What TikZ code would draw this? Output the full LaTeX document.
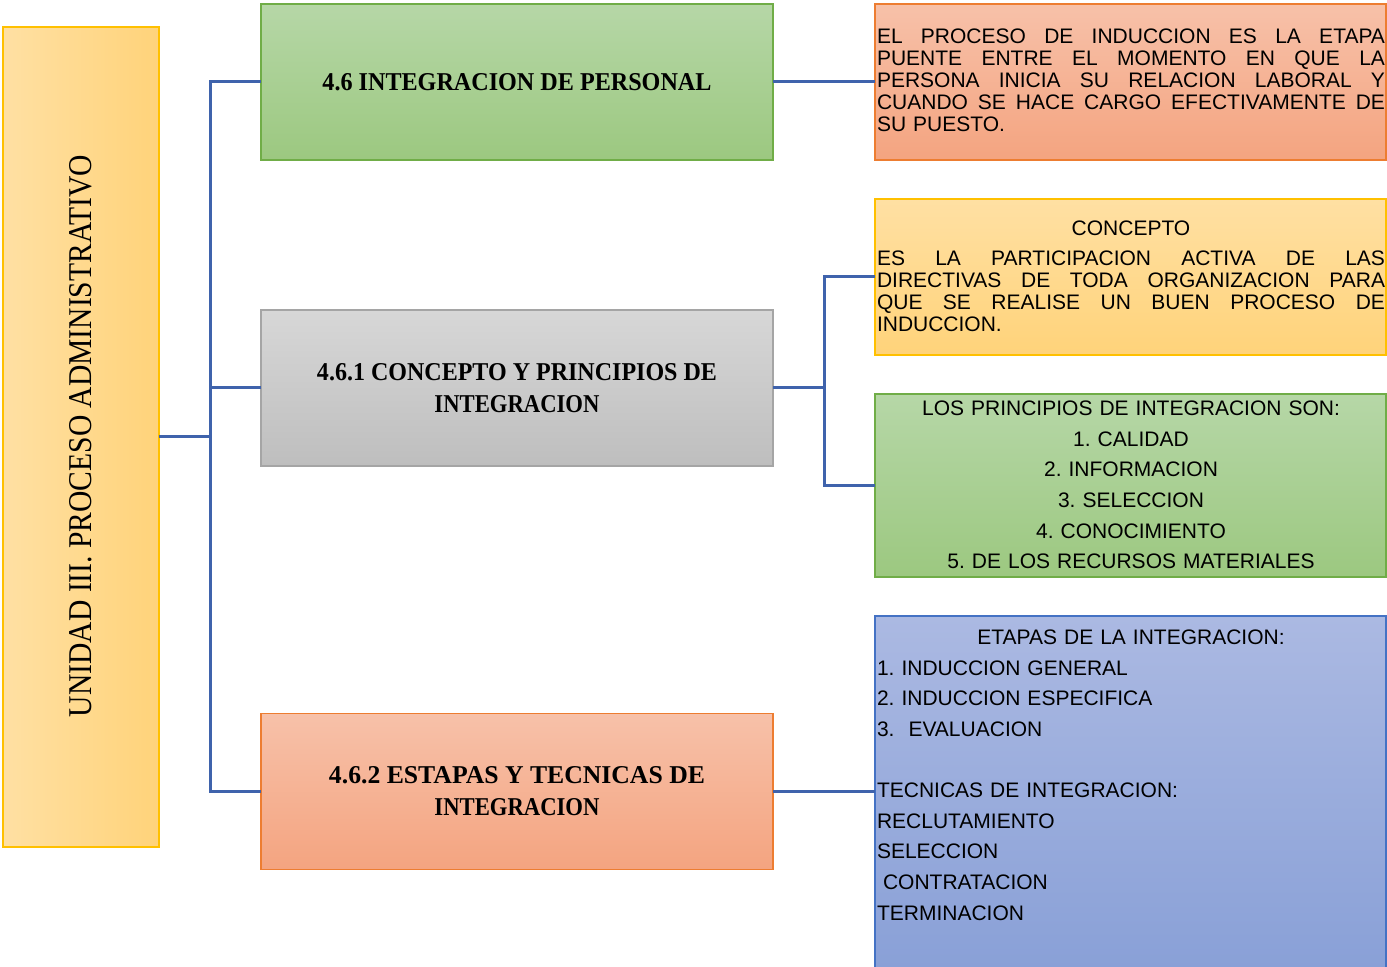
\documentclass[tikz,border=0pt]{standalone}
\usepackage{fontspec}
\setmainfont{Liberation Sans}
\newfontfamily\serifttl{Liberation Serif}
\frenchspacing
\definecolor{connc}{RGB}{63,99,172}
\definecolor{ylwB}{RGB}{255,192,0}
\definecolor{ylwL}{RGB}{255,224,163}
\definecolor{ylwR}{RGB}{255,211,122}
\definecolor{grnB}{RGB}{112,173,71}
\definecolor{grnT}{RGB}{182,215,167}
\definecolor{grnD}{RGB}{156,200,128}
\definecolor{grayB}{RGB}{165,165,165}
\definecolor{grayT}{RGB}{215,215,215}
\definecolor{grayD}{RGB}{190,190,190}
\definecolor{orgB}{RGB}{237,125,49}
\definecolor{orgT}{RGB}{247,193,169}
\definecolor{orgD}{RGB}{244,164,128}
\definecolor{bluB}{RGB}{68,114,196}
\definecolor{bluT}{RGB}{171,185,226}
\definecolor{bluD}{RGB}{137,160,215}
\newcommand\spread[1]{{\spaceskip=0.278em plus 1fil\xspaceskip=\spaceskip\makebox[254pt][s]{#1}}}
\begin{document}
\begin{tikzpicture}[x=0.5pt,y=-0.5pt,
  box/.style={rectangle, inner sep=0pt, outer sep=0pt, line width=0.75pt},
  midbox/.style={box, minimum width=256pt, minimum height=78pt, align=center,
     font=\fontsize{10}{16}\selectfont\serifttl\bfseries},
  rbox/.style={box, minimum width=255.5pt},
  conn/.style={draw=connc, line width=1.5pt},
  body/.style={inner sep=0pt, outer sep=0pt, text width=254pt, align=left,
     font=\fontsize{10.5}{11}\selectfont}]
\useasboundingbox (0,0) rectangle (1387,967);

% left title box
\node[box, draw=ylwB, left color=ylwL, right color=ylwR,
      minimum width=78pt, minimum height=410pt] (L) at (81,437) {};
\node[rotate=90, inner sep=0pt] (Lt) at (81,436)
  {\resizebox{281pt}{11pt}{\serifttl UNIDAD III. PROCESO ADMINISTRATIVO}};

% middle boxes
\node[midbox, draw=grnB, top color=grnT, bottom color=grnD] (A) at (517,82)
  {\resizebox{194.5pt}{8.5pt}{4.6 INTEGRACION DE PERSONAL}};
\node[midbox, draw=grayB, top color=grayT, bottom color=grayD] (B) at (517,388)
  {\resizebox{200pt}{8.5pt}{4.6.1 CONCEPTO Y PRINCIPIOS DE}\\
   \resizebox{82.5pt}{8.5pt}{INTEGRACION}};
\node[midbox, draw=orgB, top color=orgT, bottom color=orgD] (C) at (517,791.5)
  {\resizebox{188pt}{8.5pt}{4.6.2 ESTAPAS Y TECNICAS DE}\\
   \resizebox{82.5pt}{8.5pt}{INTEGRACION}};

% right boxes
\node[rbox, draw=orgB, top color=orgT, bottom color=orgD, minimum height=78pt]
  (R1) at (1130.5,82) {};
\node[rbox, draw=ylwB, top color=ylwL, bottom color=ylwR, minimum height=78pt]
  (R2) at (1130.5,277) {};
\node[rbox, draw=grnB, top color=grnT, bottom color=grnD, minimum height=91.5pt]
  (R3) at (1130.5,485.5) {};
\node[rbox, draw=bluB, top color=bluT, bottom color=bluD, minimum height=177pt]
  (R4) at (1130.5,793) {};

% right texts
\node[body, anchor=north west] (R1t) at (877,29)
  {\spread{EL PROCESO DE INDUCCION ES LA ETAPA}\\
   \spread{PUENTE ENTRE EL MOMENTO EN QUE LA}\\
   \spread{PERSONA INICIA SU RELACION LABORAL Y}\\
   \spread{CUANDO SE HACE CARGO EFECTIVAMENTE DE}\\
   SU PUESTO.};
\node[body, anchor=north west] (R2t) at (877,221)
  {\makebox[254pt]{CONCEPTO}\\[4pt]
   \spread{ES LA PARTICIPACION ACTIVA DE LAS}\\
   \spread{DIRECTIVAS DE TODA ORGANIZACION PARA}\\
   \spread{QUE SE REALISE UN BUEN PROCESO DE}\\
   INDUCCION.};
\node[body, align=center, font=\fontsize{10.5}{15.3}\selectfont, anchor=north]
  (R3t) at (1131,401)
  {LOS PRINCIPIOS DE INTEGRACION SON:\\
   1. CALIDAD\\
   2. INFORMACION\\
   3. SELECCION\\
   4. CONOCIMIENTO\\
   5. DE LOS RECURSOS MATERIALES};
\node[body, font=\fontsize{10.5}{15.3}\selectfont, anchor=north west]
  (R4t) at (877,630)
  {\makebox[254pt]{ETAPAS DE LA INTEGRACION:}\\
   1. INDUCCION GENERAL\\
   2. INDUCCION ESPECIFICA\\
   3.\ \ EVALUACION\\
   \mbox{}\\
   TECNICAS DE INTEGRACION:\\
   RECLUTAMIENTO\\
   SELECCION\\
   \hspace*{3pt}CONTRATACION\\
   TERMINACION};

% connectors
\coordinate (j1) at (210,437);
\coordinate (j2) at (824,388);
\draw[conn] (L.east) -- (j1);
\draw[conn] (A.west) -| (j1);
\draw[conn] (B.west) -| (j1);
\draw[conn] (C.west) -| (j1);
\draw[conn] (A.east) -- (R1.west);
\draw[conn] (B.east) -- (j2);
\draw[conn] (R2.west) -| (j2);
\draw[conn] (R3.west) -| (j2);
\draw[conn] (C.east) -- (C.east -| R4.west);
\end{tikzpicture}
\end{document}
